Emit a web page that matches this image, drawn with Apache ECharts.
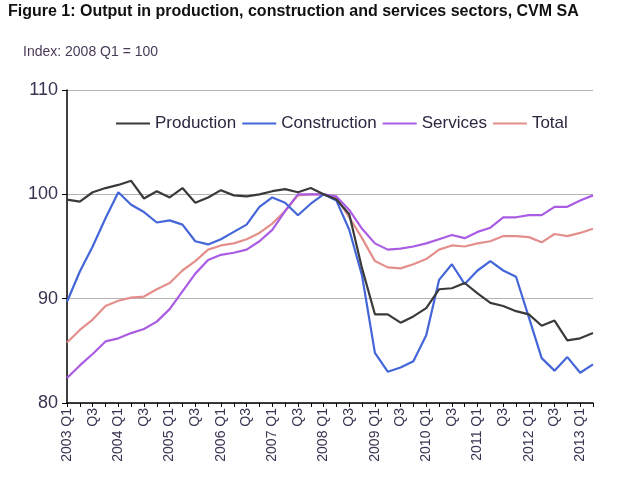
<!DOCTYPE html>
<html lang="en">
<head>
    <meta charset="UTF-8">
    <title>Output by sector</title>
    <script src="https://cdn.jsdelivr.net/npm/echarts@6/dist/echarts.min.js"></script>
</head>
<body style="margin:0;background:#fff;">
    <div id="main" style="width:620px;height:480px;"></div>
    <script type="text/javascript">
        // quarters 2003 Q1 .. 2013 Q2
        const quarters = [];
        for (let y = 2003; y <= 2013; y++) {
            ['Q1', 'Q2', 'Q3', 'Q4'].forEach(q => {
                if (y === 2013 && (q === 'Q3' || q === 'Q4')) return;
                quarters.push(q === 'Q1' ? `${y} Q1` : q);
            });
        }

        const production = [99.5, 99.3, 100.2, 100.6, 100.9, 101.3, 99.6, 100.3, 99.7, 100.6,
            99.2, 99.7, 100.4, 99.9, 99.8, 100.0, 100.3, 100.5, 100.2, 100.6,
            100.0, 99.5, 98.1, 92.9, 88.5, 88.5, 87.7, 88.3, 89.1, 90.9,
            91.0, 91.5, 90.5, 89.6, 89.3, 88.8, 88.5, 87.4, 87.9, 86.0,
            86.2, 86.7];
        const construction = [89.7, 92.6, 95.0, 97.7, 100.2, 99.0, 98.3, 97.3, 97.5, 97.1,
            95.5, 95.2, 95.7, 96.4, 97.1, 98.8, 99.7, 99.2, 98.0, 99.1,
            100.0, 99.4, 96.6, 92.2, 84.8, 83.0, 83.4, 84.0, 86.5, 91.8,
            93.3, 91.4, 92.7, 93.6, 92.7, 92.1, 88.2, 84.3, 83.1, 84.4,
            82.9, 83.7];
        const services = [82.4, 83.6, 84.7, 85.9, 86.2, 86.7, 87.1, 87.8, 89.0, 90.7,
            92.4, 93.7, 94.2, 94.4, 94.7, 95.5, 96.6, 98.4, 100.0, 100.0,
            100.0, 99.8, 98.5, 96.7, 95.3, 94.7, 94.8, 95.0, 95.3, 95.7,
            96.1, 95.8, 96.4, 96.8, 97.8, 97.8, 98.0, 98.0, 98.8, 98.8,
            99.4, 99.9];
        const total = [85.8, 87.0, 88.0, 89.3, 89.8, 90.1, 90.2, 90.9, 91.5, 92.7,
            93.6, 94.7, 95.1, 95.3, 95.7, 96.3, 97.2, 98.4, 99.9, 100.0,
            100.0, 99.7, 97.8, 95.8, 93.6, 93.0, 92.9, 93.3, 93.8, 94.7,
            95.1, 95.0, 95.3, 95.5, 96.0, 96.0, 95.9, 95.4, 96.2, 96.0,
            96.3, 96.7];

        const seriesNames = ['Production', 'Construction', 'Services', 'Total'];
        const seriesColors = ['#3a3a3a', '#4466d8', '#aa5ce2', '#e38f8c'];
        const seriesData = [production, construction, services, total];

        const labelColor = '#3b3150';
        const font = 'Liberation Sans, Arial, sans-serif';

        const myChart = echarts.init(document.getElementById('main'));

        const option = {
            animation: false,
            textStyle: { fontFamily: font },
            title: [
                {
                    text: 'Figure 1: Output in production, construction and services sectors, CVM SA',
                    left: 8,
                    top: 4,
                    padding: 0,
                    textStyle: { fontSize: 16, fontWeight: 'bold', color: '#111', fontFamily: font }
                },
                {
                    text: 'Index: 2008 Q1 = 100',
                    left: 23,
                    top: 45,
                    padding: 0,
                    textStyle: { fontSize: 14, fontWeight: 'normal', color: '#4a3a58', fontFamily: font }
                }
            ],
            legend: {
                data: seriesNames,
                icon: 'rect',
                left: 111,
                top: 110,
                itemWidth: 34,
                itemHeight: 2,
                itemGap: 6,
                textStyle: { fontSize: 17, color: '#2e2640', fontFamily: font }
            },
            grid: {
                left: 67,
                right: 27,
                top: 90,
                bottom: 77
            },
            xAxis: {
                type: 'category',
                data: quarters,
                boundaryGap: false,
                axisLine: { lineStyle: { color: '#000', width: 1.5 } },
                axisTick: { show: true, interval: 0, length: 4, lineStyle: { color: '#000' } },
                axisLabel: {
                    interval: 1,
                    rotate: 90,
                    fontSize: 14,
                    color: labelColor,
                    margin: 5
                },
                splitLine: { show: false }
            },
            yAxis: {
                type: 'value',
                min: 80,
                max: 110,
                interval: 10,
                axisLine: { show: true, lineStyle: { color: '#000', width: 1.5 } },
                axisTick: { show: true, length: 5, lineStyle: { color: '#000' } },
                axisLabel: { fontSize: 18, color: labelColor, margin: 9 },
                splitLine: { show: true, lineStyle: { color: '#b4b4b4', width: 1 } }
            },
            series: seriesNames.map((name, i) => ({
                name: name,
                type: 'line',
                data: seriesData[i],
                symbol: 'none',
                color: seriesColors[i],
                lineStyle: { width: 2.2, color: seriesColors[i] },
                z: 10 - i
            }))
        };

        myChart.setOption(option);
    </script>
</body>
</html>
